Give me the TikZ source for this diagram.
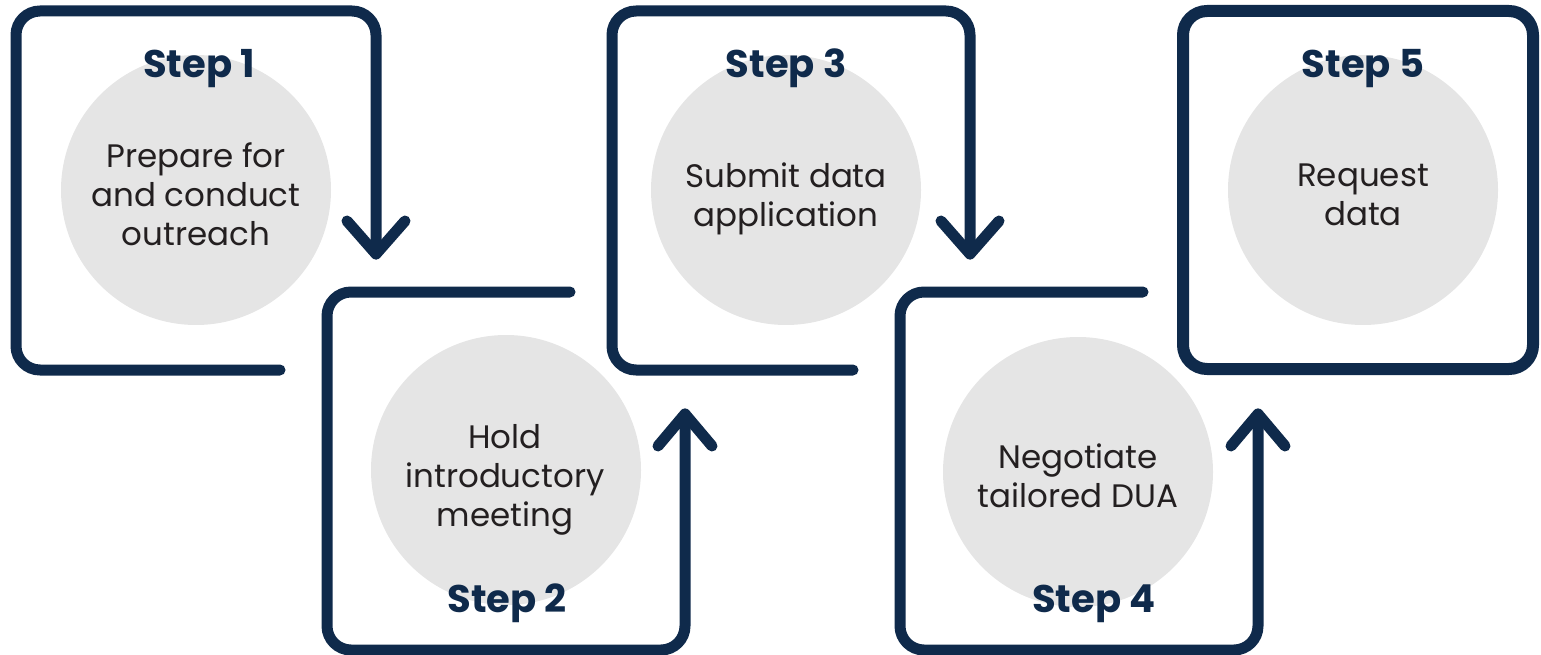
\documentclass[tikz,border=0pt]{standalone}
\usepackage{fontspec}
\setmainfont{Poppins}
\definecolor{navy}{HTML}{0F2A4B}
\definecolor{circ}{HTML}{E5E5E5}
\definecolor{txt}{HTML}{231F20}
\tikzset{
  frame/.style={draw=navy, line width=11pt, rounded corners=24pt, line cap=round, line join=round},
  chev/.style={draw=navy, line width=11pt, line cap=round, line join=round},
  disc/.style={circle, fill=circ, minimum size=270pt, inner sep=0pt},
  body/.style={text=txt, font=\fontsize{32.5}{39}\selectfont, align=center, inner sep=0pt, anchor=base},
  steplbl/.style={text=navy, font=\fontsize{38.5}{40}\selectfont\bfseries, inner sep=0pt, anchor=base},
}
\begin{document}
\begin{tikzpicture}[x=1pt,y=-1pt]
\useasboundingbox (0,0) rectangle (1541,655);
% discs
\node[disc] (c1) at (196,190) {};
\node[disc] (c2) at (506,470) {};
\node[disc] (c3) at (786,190) {};
\node[disc] (c4) at (1078,472) {};
\node[disc] (c5) at (1363,190) {};
% frames
\draw[frame] (280,370) -- (16,370) -- (16,11) -- (376,11) -- (376,254);
\draw[chev] (347,221) -- (376,254) -- (405,221);
\draw[frame] (570,292) -- (327,292) -- (327,650) -- (685,650) -- (685,414);
\draw[chev] (658,446) -- (685,414) -- (712,446);
\draw[frame] (853,370) -- (612,370) -- (612,11) -- (970,11) -- (970,254);
\draw[chev] (941,221) -- (970,254) -- (999,221);
\draw[frame] (1143,292) -- (900,292) -- (900,650) -- (1258,650) -- (1258,414);
\draw[chev] (1231,446) -- (1258,414) -- (1285,446);
\draw[frame, line width=12pt] (1183,11) rectangle (1533,369);
% step labels
\node[steplbl] (s1) at (199,78) {Step 1};
\node[steplbl] (s2) at (507,612) {Step 2};
\node[steplbl] (s3) at (786,78) {Step 3};
\node[steplbl] (s4) at (1094,612) {Step 4};
\node[steplbl] (s5) at (1363,78) {Step 5};
% body texts (base anchor = baseline of last line)
\node[body] (t1) at (196,245) {Prepare for\\and conduct\\outreach};
\node[body] (t2) at (505,526) {Hold\\introductory\\meeting};
\node[body] (t3) at (786,226) {Submit data\\application};
\node[body] (t4) at (1078,507) {Negotiate\\tailored DUA};
\node[body] (t5) at (1363,225) {Request\\data};
\end{tikzpicture}
\end{document}
